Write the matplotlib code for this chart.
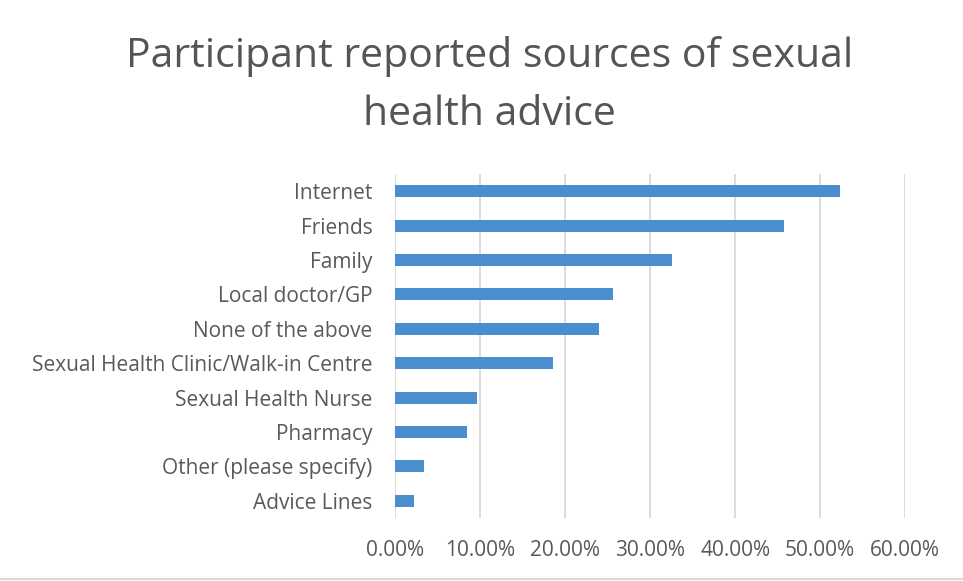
import matplotlib
matplotlib.use("Agg")
import matplotlib.pyplot as plt
from matplotlib.ticker import PercentFormatter
from matplotlib.lines import Line2D

# survey answers, top to bottom as listed
sources = [
    "Internet",
    "Friends",
    "Family",
    "Local doctor/GP",
    "None of the above",
    "Sexual Health Clinic/Walk-in Centre",
    "Sexual Health Nurse",
    "Pharmacy",
    "Other (please specify)",
    "Advice Lines",
]
shares = [0.523, 0.457, 0.326, 0.257, 0.240, 0.186, 0.097, 0.085, 0.034, 0.022]
xticks = [0.0, 0.1, 0.2, 0.3, 0.4, 0.5, 0.6]

title_text = "Participant reported sources of sexual\nhealth advice"

plt.rcParams["font.family"] = ["Open Sans", "DejaVu Sans"]

fig = plt.figure(figsize=(9.63, 5.81), dpi=100)
ax = fig.add_axes([0.410, 0.1084, 0.530, 0.5921])

ypos = list(range(len(sources)))[::-1]
ax.barh(ypos, shares, height=0.35, color="#4a8ecf", zorder=3)

ax.set_xlim(0, 0.6)
ax.set_ylim(-0.5, len(sources) - 0.5)
ax.set_xticks(xticks)
ax.xaxis.set_major_formatter(PercentFormatter(xmax=1, decimals=2))
ax.set_yticks(ypos)
ax.set_yticklabels(sources)

ax.grid(axis="x", color="#d9d9d9", linewidth=1.3, zorder=0)
for s in ax.spines.values():
    s.set_visible(False)
ax.tick_params(axis="both", length=0, colors="#595959", labelsize=15)
ax.tick_params(axis="x", pad=16)
ax.tick_params(axis="y", pad=16)

fig.text(0.508, 0.853, title_text, ha="center", va="center",
         fontsize=29.5, color="#555555", linespacing=1.56)

# thin frame line along the bottom
fig.add_artist(Line2D([0, 1], [0.004, 0.004], color="#d9d9d9", linewidth=1.5,
                      transform=fig.transFigure))

fig.savefig("out.png", dpi=100)
